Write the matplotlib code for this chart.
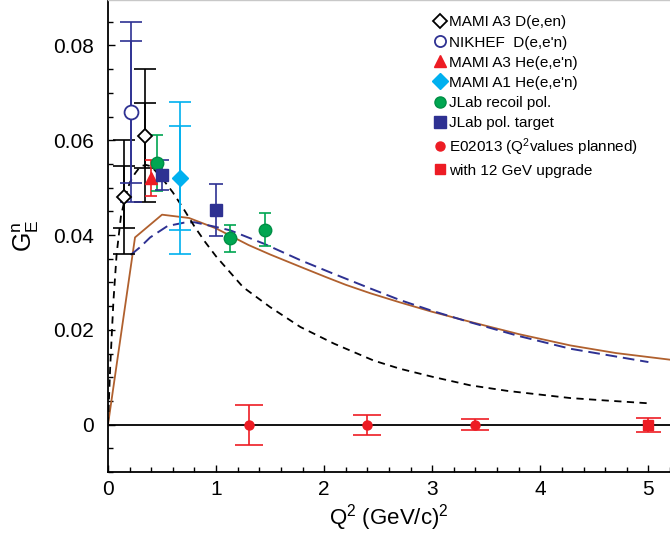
import matplotlib
matplotlib.use("Agg")
import matplotlib.pyplot as plt
from matplotlib.lines import Line2D

plt.rcParams['font.family'] = ['Liberation Sans', 'DejaVu Sans']
plt.rcParams['mathtext.fontset'] = 'custom'
plt.rcParams['mathtext.rm'] = 'Liberation Sans'
plt.rcParams['mathtext.it'] = 'Liberation Sans'
plt.rcParams['mathtext.bf'] = 'Liberation Sans'

# data
mami_d_q2 = [0.15, 0.34]
mami_d_g = [0.048, 0.061]
mami_d_stat = [0.0065, 0.0068]
mami_d_tot = [0.012, 0.014]

nikhef_q2 = [0.21]
nikhef_g = [0.066]
nikhef_stat = [0.015]
nikhef_tot = [0.019]

mami_he_q2 = [0.40]
mami_he_g = [0.052]
mami_he_err = [0.0038]

mami_a1_q2 = [0.67]
mami_a1_g = [0.052]
mami_a1_stat = [0.011]
mami_a1_tot = [0.016]

recoil_q2 = [0.45, 1.13, 1.45]
recoil_g = [0.0552, 0.0393, 0.0411]
recoil_err = [0.006, 0.0028, 0.0035]

target_q2 = [0.50, 1.0]
target_g = [0.0527, 0.0453]
target_err = [0.0032, 0.0054]

e02013_q2 = [1.3, 2.4, 3.4]
e02013_g = [0.0, 0.0, 0.0]
e02013_err = [0.0042, 0.0021, 0.0012]

upgrade_q2 = [5.0]
upgrade_g = [0.0]
upgrade_err = [0.0015]

# model curves
galster_q2 = [0, 0.02, 0.05, 0.08, 0.12, 0.16, 0.2, 0.25, 0.3, 0.35, 0.4, 0.5, 0.6, 0.7,
              0.8, 0.9, 1.0, 1.25, 1.5, 1.78, 2.09, 2.46, 2.7, 3.0, 3.35, 3.7, 4.28, 4.6, 5.0]
galster_g = [0, 0.012, 0.026, 0.036, 0.044, 0.048, 0.051, 0.053, 0.0545, 0.0548, 0.0545, 0.052,
             0.049, 0.0455, 0.0418, 0.0385, 0.0355, 0.029, 0.0248, 0.0206, 0.0171, 0.0135,
             0.0118, 0.0101, 0.0083, 0.0071, 0.0056, 0.0051, 0.0045]

brown_q2 = [0, 0.25, 0.5, 0.75, 1.0, 1.3, 1.5, 1.78, 2.02, 2.2, 2.43, 2.7, 3.0, 3.35, 3.8,
            4.28, 4.7, 5.2]
brown_g = [0, 0.0395, 0.0443, 0.0436, 0.0414, 0.0379, 0.0359, 0.0333, 0.0311, 0.0295, 0.0277,
           0.0258, 0.0238, 0.0217, 0.0191, 0.0167, 0.0151, 0.0137]

blue_q2 = [0.21, 0.3, 0.39, 0.55, 0.7, 0.8, 1.0, 1.13, 1.44, 1.78, 2.09, 2.43, 2.7, 3.0, 3.35,
           3.8, 4.28, 5.0]
blue_g = [0.0358, 0.0375, 0.0395, 0.0419, 0.0426, 0.0427, 0.0417, 0.041, 0.0382, 0.0347,
          0.0318, 0.0287, 0.0263, 0.024, 0.0216, 0.0187, 0.016, 0.0132]

legend_labels = ["MAMI A3 D(e,en)", "NIKHEF  D(e,e'n)", "MAMI A3 He(e,e'n)", "MAMI A1 He(e,e'n)",
                 "JLab recoil pol.", "JLab pol. target", "E02013 (Q$^2$values planned)",
                 "with 12 GeV upgrade"]

BLUE = '#2e3192'
RED = '#ed1c24'
CYAN = '#00b0ef'
GREEN = '#00a651'
BROWN = '#b0602e'

fig = plt.figure(figsize=(6.7, 5.37), dpi=100)
ax = fig.add_axes([108 / 670, 65 / 537, 562 / 670, 472 / 537])

ax.axhline(0, color='black', lw=1.3, zorder=1)

ax.plot(brown_q2, brown_g, color=BROWN, lw=1.3, zorder=2)
ax.plot(blue_q2, blue_g, color=BLUE, lw=1.4, dashes=(6, 3), zorder=2)
ax.plot(galster_q2, galster_g, color='black', lw=1.3, dashes=(4, 3), zorder=2)

eb = dict(fmt='none', elinewidth=1.2, capthick=1.2, zorder=3)
# double caps: total and statistical errors
ax.errorbar(mami_d_q2, mami_d_g, yerr=mami_d_tot, ecolor='black', capsize=8, **eb)
ax.errorbar(mami_d_q2, mami_d_g, yerr=mami_d_stat, ecolor='black', capsize=8, **eb)
ax.errorbar(nikhef_q2, nikhef_g, yerr=nikhef_tot, ecolor=BLUE, capsize=8, **eb)
ax.errorbar(nikhef_q2, nikhef_g, yerr=nikhef_stat, ecolor=BLUE, capsize=8, **eb)
ax.errorbar(mami_a1_q2, mami_a1_g, yerr=mami_a1_tot, ecolor=CYAN, capsize=8, **eb)
ax.errorbar(mami_a1_q2, mami_a1_g, yerr=mami_a1_stat, ecolor=CYAN, capsize=8, **eb)
ax.errorbar(mami_he_q2, mami_he_g, yerr=mami_he_err, ecolor=RED, capsize=4.5, **eb)
ax.errorbar(recoil_q2, recoil_g, yerr=recoil_err, ecolor=GREEN, capsize=4.5, **eb)
ax.errorbar(target_q2, target_g, yerr=target_err, ecolor=BLUE, capsize=5, **eb)
ax.errorbar(e02013_q2, e02013_g, yerr=e02013_err, ecolor=RED, capsize=10, **eb)
ax.errorbar(upgrade_q2, upgrade_g, yerr=upgrade_err, ecolor=RED, capsize=9, **eb)

styles = [
    dict(marker='D', ms=7.5, mfc='white', mec='black', mew=1.3),
    dict(marker='o', ms=10, mfc='white', mec=BLUE, mew=1.3),
    dict(marker='^', ms=9, mfc=RED, mec=RED),
    dict(marker='D', ms=8.5, mfc=CYAN, mec=CYAN),
    dict(marker='o', ms=9, mfc=GREEN, mec='#008f45', mew=1.0),
    dict(marker='s', ms=8, mfc=BLUE, mec=BLUE),
    dict(marker='o', ms=6.5, mfc=RED, mec=RED),
    dict(marker='s', ms=6.5, mfc=RED, mec=RED),
]
sets = [(mami_d_q2, mami_d_g), (nikhef_q2, nikhef_g), (mami_he_q2, mami_he_g),
        (mami_a1_q2, mami_a1_g), (recoil_q2, recoil_g), (target_q2, target_g),
        (e02013_q2, e02013_g), (upgrade_q2, upgrade_g)]
for (xs, ys), st in zip(sets, styles):
    ax.plot(xs, ys, ls='none', zorder=4, clip_on=False, **st)

handles = []
for st, lab in zip(styles, legend_labels):
    s = dict(st)
    s['ms'] = min(s['ms'], 8)
    handles.append(Line2D([], [], ls='none', label=lab, **s))
ax.legend(handles=handles, loc='upper left', bbox_to_anchor=(0.56, 0.99), frameon=False,
          fontsize=11, handlelength=0.8, handletextpad=0.25, labelspacing=0.4,
          borderpad=0.2)

ax.set_xlim(0, 5.2)
ax.set_ylim(-0.01, 0.0896)
ax.set_xticks([0, 1, 2, 3, 4, 5])
ax.set_xticks([i * 0.2 for i in range(27)], minor=True)
ax.set_yticks([0, 0.02, 0.04, 0.06, 0.08])
ax.set_yticklabels(['0', '0.02', '0.04', '0.06', '0.08'])
ax.set_yticks([-0.01 + i * 0.005 for i in range(20)], minor=True)
ax.tick_params(which='both', direction='in', labelsize=15, width=1.0)
ax.tick_params(axis='x', pad=6)
ax.tick_params(axis='y', pad=10)
ax.tick_params(which='major', length=5)
ax.tick_params(which='minor', length=3.5)

for s in ['left', 'bottom']:
    ax.spines[s].set_linewidth(1.3)
ax.spines['right'].set_visible(False)
ax.spines['top'].set_color('#c8c8c8')
ax.spines['top'].set_linewidth(1.0)

ax.set_xlabel('Q$^2$ (GeV/c)$^2$', fontsize=16, labelpad=2)
ax.set_ylabel('G$^{\\mathrm{n}}_{\\mathrm{E}}$', fontsize=18, labelpad=9)

fig.savefig('out.png', dpi=100)
